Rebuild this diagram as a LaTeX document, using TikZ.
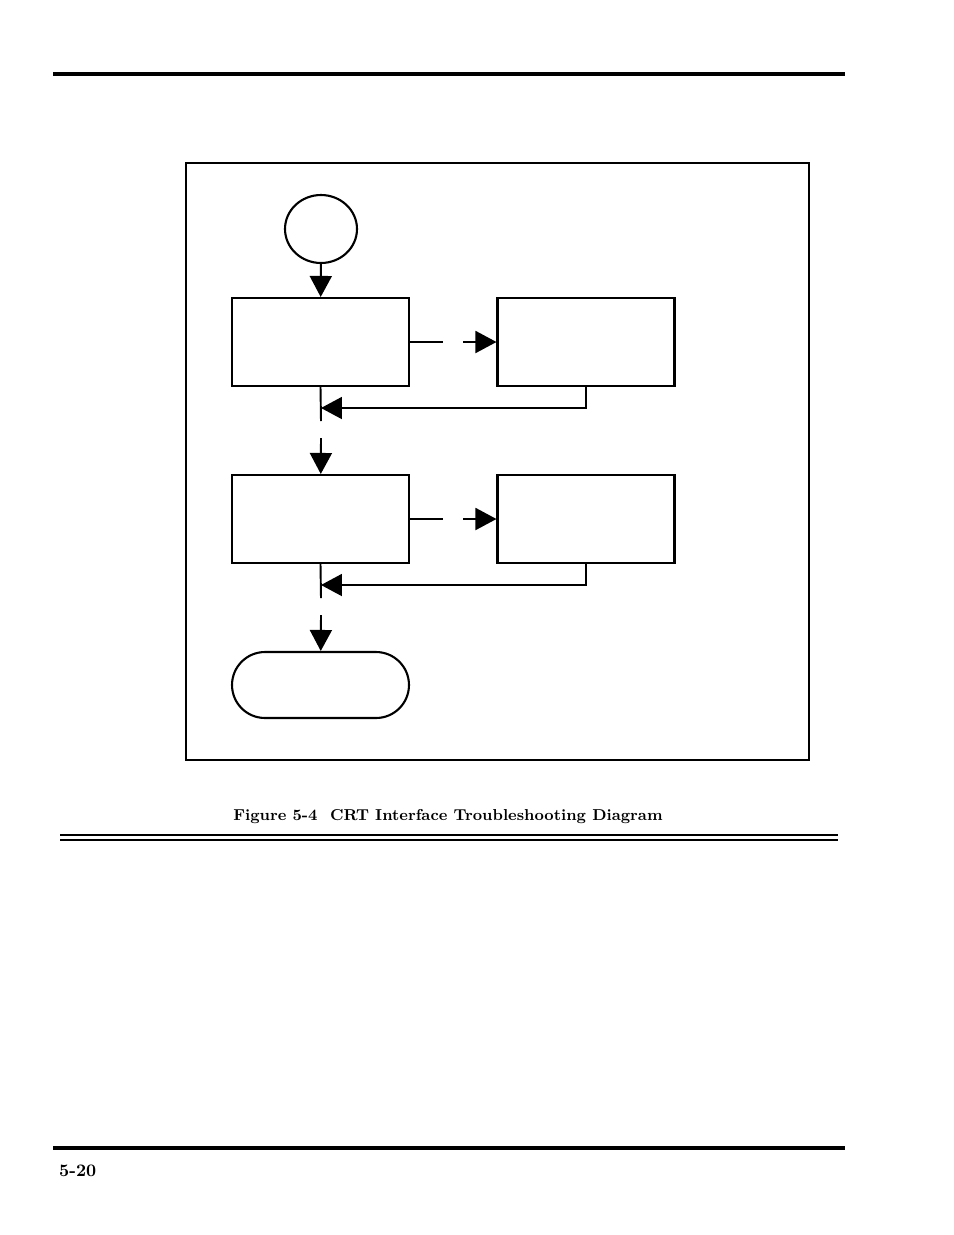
\documentclass[tikz,border=0pt]{standalone}
\usepackage{tikz}
\usetikzlibrary{arrows.meta,positioning,shapes.geometric}
\tikzset{
  stepbox/.style={draw, line width=1.2pt, minimum width=3.54cm, minimum height=1.76cm, inner sep=0pt},
  flow/.style={line width=1.1pt, -{Triangle[length=0.42cm,width=0.44cm]}},
  plain/.style={line width=1.1pt}
}
\begin{document}
\begin{tikzpicture}[x=0.02cm,y=-0.02cm]
    \useasboundingbox (0,0) rectangle (954,1235);
    % page rules
    \draw[line width=2.6pt] (53,74) -- (845,74);
    \draw[line width=2.6pt] (53,1148) -- (845,1148);
    \draw[line width=0.6pt] (60,835) -- (838,835);
    \draw[line width=0.6pt] (60,840) -- (838,840);
    \node[anchor=west, font=\bfseries] at (53,1171) {5-20};
    % frame
    \draw[line width=0.8pt] (186,163) rectangle (809,760);
    \node[font=\bfseries\small] (cap) at (448,817) {Figure 5-4\ \ CRT Interface Troubleshooting Diagram};
    % flow
    \node[draw, line width=1.2pt, ellipse, minimum width=1.44cm, minimum height=1.36cm] (start) at (321,229) {};
    \node[stepbox] (chk1) at (320.5,342) {};
    \node[stepbox] (fix1) at (586,342) {};
    \node[stepbox] (chk2) at (320.5,519) {};
    \node[stepbox] (fix2) at (586,519) {};
    \node[draw, line width=1.2pt, rounded corners=0.66cm, minimum width=3.54cm, minimum height=1.32cm] (done) at (320.5,685) {};
    \coordinate (g1a) at (443,342);
    \coordinate (g1b) at (463,342);
    \coordinate (g2a) at (443,519);
    \coordinate (g2b) at (463,519);
    \coordinate (r1) at (321,408);
    \coordinate (r2) at (321,585);
    \coordinate (d1a) at (321,421);
    \coordinate (d1b) at (321,438);
    \coordinate (d2a) at (321,598);
    \coordinate (d2b) at (321,615);
    \draw[flow] (start) -- (chk1);
    \draw[plain] (chk1) -- (g1a);
    \draw[flow] (g1b) -- (fix1);
    \draw[flow] (fix1.south) |- (r1);
    \draw[plain] (chk1.south) -- (d1a);
    \draw[flow] (d1b) -- (chk2);
    \draw[plain] (chk2) -- (g2a);
    \draw[flow] (g2b) -- (fix2);
    \draw[flow] (fix2.south) |- (r2);
    \draw[plain] (chk2.south) -- (d2a);
    \draw[flow] (d2b) -- (done);
\end{tikzpicture}
\end{document}
